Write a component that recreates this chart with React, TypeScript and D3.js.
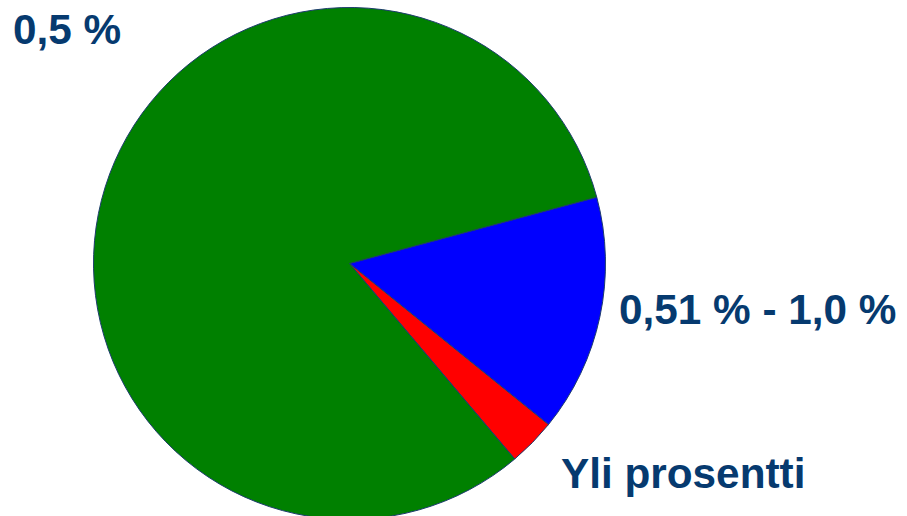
import * as d3 from "d3";

// slice data (order as drawn clockwise from ~75°)
const categories = ["0,51 % - 1,0 %", "Yli prosentti", "0,5 %"];
const shares = [15, 3, 82];
const colors = ["#0000ff", "#ff0000", "#008000"];

// label texts
const labels = ["0,5 %", "0,51 % - 1,0 %", "Yli prosentti"];

const width = 907;
const height = 516;

export default function App() {
  const cx = 349.5;
  const cy = 263.5;
  const radius = 256;

  const pie = d3
    .pie<number>()
    .sort(null)
    .startAngle((75 * Math.PI) / 180)
    .endAngle((75 * Math.PI) / 180 + 2 * Math.PI);

  const arcs = pie(shares);
  const arc = d3.arc<d3.PieArcDatum<number>>().innerRadius(0).outerRadius(radius);

  const textStyle = {
    fontFamily: "'Liberation Sans', Arial, sans-serif",
    fontWeight: 700,
    fontSize: 42.3,
    fill: "#063a6f",
  };

  return (
    <svg
      width={width}
      height={height}
      style={{ position: "absolute", left: 0, top: 0, display: "block" }}
    >
      <rect width={width} height={height} fill="#ffffff" />
      <g transform={`translate(${cx},${cy})`}>
        {arcs.map((d, i) => (
          <path
            key={categories[i]}
            d={arc(d) ?? ""}
            fill={colors[i]}
            stroke="#1d3c6e"
            strokeWidth={1}
          />
        ))}
      </g>
      <text x={13} y={44} style={textStyle}>
        {labels[0]}
      </text>
      <text x={619} y={324} style={textStyle}>
        {labels[1]}
      </text>
      <text x={561} y={488} style={textStyle}>
        {labels[2]}
      </text>
    </svg>
  );
}
